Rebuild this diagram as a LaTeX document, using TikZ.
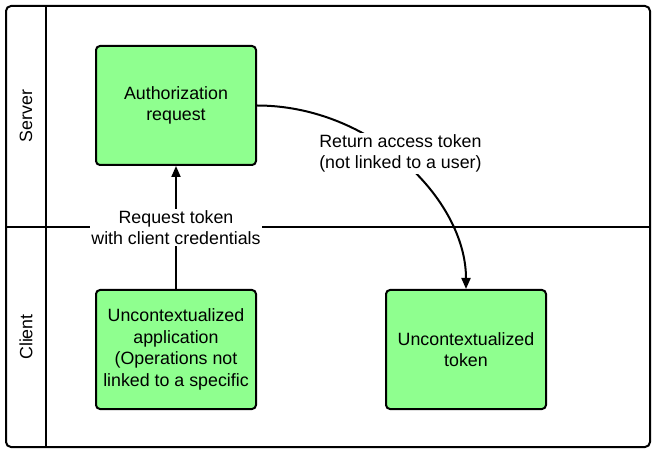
\documentclass[tikz,border=0pt]{standalone}
\usepackage{fontspec}
\setmainfont{Liberation Sans}
\usetikzlibrary{arrows.meta}
\definecolor{boxgreen}{RGB}{143,255,143}

\begin{document}
\begin{tikzpicture}[x=1bp,y=-1bp,
    every node/.style={font=\fontsize{17.8bp}{21.7bp}\selectfont},
    lane/.style={line width=2bp},
    box/.style={draw=black,line width=2bp,fill=boxgreen,rounded corners=4bp,
      minimum width=160bp,minimum height=119bp,align=center,inner sep=2bp},
    lbl/.style={fill=white,align=center,inner sep=1.5bp},
    flow/.style={line width=2bp,-{Triangle[length=11bp,width=9bp]}}]
  \useasboundingbox (0,0) rectangle (656,453);
  \draw[lane,rounded corners=5bp] (6,6) rectangle (650,447);
  \draw[lane] (46,6) -- (46,447);
  \draw[lane] (6,227.5) -- (650,227.5);
  \node[rotate=90] (server) at (26,116) {Server};
  \node[rotate=90] (client) at (26,337) {Client};
  \node[box] (auth) at (176,105.5) {Authorization\\request};
  \node[box] (app) at (176,349.5) {Uncontextualized\\application\\(Operations not\\linked to a specific};
  \node[box] (token) at (466,349.5) {Uncontextualized\\token};
  \draw[flow] (app) -- node[lbl] (reqlbl) {Request token\\with client credentials} (auth);
  \draw[flow] (auth.east) .. controls +(114,0) and +(0,-90) .. node[lbl,pos=0.45,xshift=8bp] (retlbl) {Return access token\\(not linked to a user)} (token.north);
\end{tikzpicture}
\end{document}
